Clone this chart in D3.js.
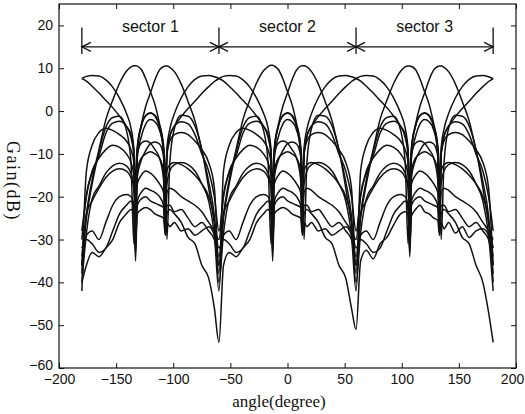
<!DOCTYPE html>
<html>
<head>
<meta charset="utf-8">
<script src="https://cdn.jsdelivr.net/npm/d3@7"></script>
<style>
  body { margin: 0; background: #fff; }
  .tick text { font-family: "Liberation Sans", Arial, sans-serif; font-size: 14px; fill: #111; }
  .tick line { stroke: #111; }
  .beam { fill: none; stroke: #111; stroke-width: 1.5; stroke-linejoin: round; }
</style>
</head>
<body>
<div class="chart"></div>
<script>
// Angle knots (degree) shared by every beam curve
const angleGrid = [
  -180, -176, -171, -165, -159, -153, -147, -141, -137, -134.5, -133, -131.5, -128, -124, -120, -116, -112, -108.5, -107, -105.5, -103, -99, -93, -87, -81, -75, -69, -64,
  -60, -56, -51, -45, -39, -33, -27, -21, -17, -14.5, -13, -11.5, -8, -4, 0, 4, 8, 11.5, 13, 14.5, 17, 21, 27, 33, 39, 45, 51, 56,
  60, 64, 69, 75, 81, 87, 93, 99, 103, 105.5, 107, 108.5, 112, 116, 120, 124, 128, 131.5, 133, 134.5, 137, 141, 147, 153, 159, 165, 171, 176,
  180
]

// Gain (dB) of each beam at the knots above, one line per sector
const beamIL1 = [
  -34, -24, -16, -9, -2, 2.5, 6.5, 9.3, 10.3, 10.6, 10.6, 10.5, 9.7, 7.5, 4.5, 1.5, -3, -8, -14, -30, -12, -4, -1, -1.2, -3.5, -9, -18, -26,
  -32, -30, -31, -33, -32, -28, -24, -22, -21, -23, -35, -22, -20.5, -20, -21, -21.5, -22, -22.5, -28, -24, -23, -24, -26, -29.5, -31, -36, -39, -46,
  -51, -35, -32.5, -34.5, -31, -29.5, -26.5, -24, -23.5, -24, -31, -24.5, -23, -22, -23.5, -24, -25, -25.5, -29, -26, -27.5, -26, -28.5, -27, -29.5, -28, -27.5, -29,
  -34
]
const beamIL2 = [
  -40, -36, -33, -34, -32, -30, -26, -24, -23, -24, -30, -24, -23, -22.5, -23, -24, -24.5, -25, -29, -26, -27, -26, -28, -27.5, -29, -28, -27, -29,
  -34, -24, -16, -9, -2, 2.6, 6.6, 9.4, 10.4, 10.7, 10.7, 10.5, 9.7, 7.5, 4.5, 1.5, -3, -8, -14, -30, -12, -4, -1, -1.2, -3.5, -9, -18, -26,
  -32, -30, -31, -33, -32, -28, -24, -22, -21, -23, -34, -22, -20.5, -20, -21, -21.5, -22, -22.5, -28, -24, -23, -24, -26, -29.5, -31, -36, -40, -47,
  -54
]
const beamIL3 = [
  -32, -30, -31, -33, -32, -28, -24, -22, -21, -23, -35, -22, -20.5, -20, -21, -21.5, -22, -22.5, -28, -24, -23, -24, -26, -29.5, -31, -36, -39, -46,
  -54, -36, -33, -34, -32, -30, -26, -24, -23, -24, -30, -24, -23, -22.5, -23, -24, -24.5, -25, -29, -26, -27, -26, -28, -27.5, -29, -28, -27, -29,
  -34, -24, -16, -9, -2, 2.5, 6.5, 9.3, 10.3, 10.5, 10.5, 10.4, 9.7, 7.5, 4.5, 1.5, -3, -8, -14, -30, -12, -4, -1, -1.2, -3.5, -9, -18, -26,
  -32
]
const beamIR1 = [
  -36, -25, -17, -9.5, -3.8, -1.5, -1.2, -4.5, -12, -31, -15, -8.5, -3.2, 1.2, 4.2, 7.3, 9.6, 10.4, 10.5, 10.5, 10.2, 9.2, 6.3, 2.2, -2.3, -9.2, -16.5, -24.5,
  -38, -14, -8, -5, -4, -4.5, -5.5, -7, -9, -12, -20, -11, -6, -3, -2, -2.5, -4.5, -9, -22, -10, -7, -5.5, -5, -5.5, -7, -9, -12, -18,
  -36, -29, -28, -30, -26, -22, -20, -19.5, -20, -22, -33, -21, -19, -18, -18.5, -19, -20, -22, -28, -22, -22, -23.5, -23, -25, -27, -26, -28, -30,
  -36
]
const beamIR2 = [
  -36, -29, -28, -30, -26, -22, -20, -19.5, -20, -22, -33, -21, -19, -18, -18.5, -19, -20, -22, -28, -22, -22, -23.5, -23, -25, -27, -26, -28, -30,
  -36, -25, -17, -9.5, -3.8, -1.5, -1.2, -4.5, -12, -31, -15, -8.5, -3.2, 1.2, 4.2, 7.3, 9.6, 10.5, 10.6, 10.6, 10.3, 9.2, 6.3, 2.2, -2.3, -9.2, -16.5, -24.5,
  -38, -14, -8, -5, -4, -4.5, -5.5, -7, -9, -12, -20, -11, -6, -3, -2, -2.5, -4.5, -9, -22, -10, -7, -5.5, -5, -5.5, -7, -9, -12, -18,
  -36
]
const beamIR3 = [
  -38, -14, -8, -5, -4, -4.5, -5.5, -7, -9, -12, -20, -11, -6, -3, -2, -2.5, -4.5, -9, -22, -10, -7, -5.5, -5, -5.5, -7, -9, -12, -18,
  -36, -29, -28, -30, -26, -22, -20, -19.5, -20, -22, -33, -21, -19, -18, -18.5, -19, -20, -22, -28, -22, -22, -23.5, -23, -25, -27, -26, -28, -30,
  -36, -25, -17, -9.5, -3.8, -1.5, -1.2, -4.5, -12, -31, -15, -8.5, -3.2, 1.2, 4.2, 7.3, 9.6, 10.4, 10.5, 10.5, 10.2, 9.2, 6.3, 2.2, -2.3, -9.2, -16.5, -24.5,
  -38
]
const beamOL1 = [
  7.6, 8.1, 8.3, 8.2, 7.3, 5.6, 3, -0.5, -4, -9, -24, -9, -3.5, -1, -0.4, -1.2, -3.8, -10, -22, -10, -6, -3.5, -2.5, -3, -5.5, -10, -14, -20,
  -28, -20, -14, -11, -9, -8, -8.5, -10, -12, -15, -24, -14, -11, -10, -9.5, -10, -11, -14, -20, -14, -12.5, -12, -12.5, -13.5, -15, -17, -20, -26,
  -40, -28.5, -20.5, -17.5, -14.5, -12.8, -12.2, -12.8, -14.5, -17.5, -24, -15.5, -11.5, -9.2, -7.6, -7.2, -7.7, -10.5, -25, -9.5, -5.8, -3.6, -1.3, 0.6, 2.3, 4.1, 5.7, 6.9,
  7.6
]
const beamOL2 = [
  -40, -28.5, -20.5, -17.5, -14.5, -12.8, -12.2, -12.8, -14.5, -17.5, -24, -15.5, -11.5, -9.2, -7.6, -7.2, -7.7, -10.5, -25, -9.5, -5.8, -3.6, -1.3, 0.6, 2.3, 4.1, 5.7, 6.9,
  7.6, 8.1, 8.3, 8.2, 7.3, 5.6, 3, -0.5, -4, -9, -24, -9, -3.5, -1, -0.4, -1.2, -3.8, -10, -22, -10, -6, -3.5, -2.5, -3, -5.5, -10, -14, -20,
  -28, -20, -14, -11, -9, -8, -8.5, -10, -12, -15, -24, -14, -11, -10, -9.5, -10, -11, -14, -20, -14, -12.5, -12, -12.5, -13.5, -15, -17, -20, -26,
  -40
]
const beamOL3 = [
  -28, -20, -14, -11, -9, -8, -8.5, -10, -12, -15, -24, -14, -11, -10, -9.5, -10, -11, -14, -20, -14, -12.5, -12, -12.5, -13.5, -15, -17, -20, -26,
  -40, -28.5, -20.5, -17.5, -14.5, -12.8, -12.2, -12.8, -14.5, -17.5, -24, -15.5, -11.5, -9.2, -7.6, -7.2, -7.7, -10.5, -25, -9.5, -5.8, -3.6, -1.3, 0.6, 2.3, 4.1, 5.7, 6.9,
  7.6, 8.1, 8.3, 8.2, 7.3, 5.6, 3, -0.5, -4, -9, -24, -9, -3.5, -1, -0.4, -1.2, -3.8, -10, -22, -10, -6, -3.5, -2.5, -3, -5.5, -10, -14, -20,
  -28
]
const beamOR1 = [
  -30, -19.5, -14.5, -10.5, -5.2, -2.8, -2.4, -3.6, -6.2, -10.5, -23, -9.5, -3.6, -1.1, -0.5, -1, -3.4, -8.8, -25, -8.6, -4.2, -0.6, 3.1, 5.7, 7.4, 8.2, 8.3, 8.0,
  7.6, 7.0, 5.8, 4.2, 2.5, 0.8, -1.2, -3.5, -5.5, -9, -26, -10, -7.5, -7, -7.5, -9, -11, -16, -25, -17, -14, -12.5, -12, -12.5, -14, -17, -21, -29,
  -42, -24, -21, -18, -15.5, -14, -13.5, -14, -15.5, -18, -28, -17, -15, -14, -14.5, -15.5, -17, -19, -26, -19, -18, -18.5, -20, -21, -22, -23.5, -26, -28,
  -30
]
const beamOR2 = [
  -42, -24, -21, -18, -15.5, -14, -13.5, -14, -15.5, -18, -28, -17, -15, -14, -14.5, -15.5, -17, -19, -26, -19, -18, -18.5, -20, -21, -22, -23.5, -26, -28,
  -30, -19.5, -14.5, -10.5, -5.2, -2.8, -2.4, -3.6, -6.2, -10.5, -23, -9.5, -3.6, -1.1, -0.5, -1, -3.4, -8.8, -25, -8.6, -4.2, -0.6, 3.1, 5.7, 7.4, 8.2, 8.3, 8.0,
  7.6, 7.0, 5.8, 4.2, 2.5, 0.8, -1.2, -3.5, -5.5, -9, -26, -10, -7.5, -7, -7.5, -9, -11, -16, -25, -17, -14, -12.5, -12, -12.5, -14, -17, -21, -29,
  -42
]
const beamOR3 = [
  7.6, 7.0, 5.8, 4.2, 2.5, 0.8, -1.2, -3.5, -5.5, -9, -26, -10, -7.5, -7, -7.5, -9, -11, -16, -25, -17, -14, -12.5, -12, -12.5, -14, -17, -21, -29,
  -42, -24, -21, -18, -15.5, -14, -13.5, -14, -15.5, -18, -28, -17, -15, -14, -14.5, -15.5, -17, -19, -26, -19, -18, -18.5, -20, -21, -22, -23.5, -26, -28,
  -30, -19.5, -14.5, -10.5, -5.2, -2.8, -2.4, -3.6, -6.2, -10.5, -23, -9.5, -3.6, -1.1, -0.5, -1, -3.4, -8.8, -25, -8.6, -4.2, -0.6, 3.1, 5.7, 7.4, 8.2, 8.3, 8.0,
  7.6
]

const beams = [beamIL1, beamIL2, beamIL3, beamIR1, beamIR2, beamIR3, beamOL1, beamOL2, beamOL3, beamOR1, beamOR2, beamOR3]

// Axis ticks
const xTicks = [-200, -150, -100, -50, 0, 50, 100, 150, 200]
const yTicks = [-60, -50, -40, -30, -20, -10, 0, 10, 20]

// Sector annotation
const sectorBounds = [-180, -60, 60, 180]
const sectorCenters = [-120, 0, 120]
const sectorLabels = ['sector 1', 'sector 2', 'sector 3']

function draw() {
    // Dimensions
    let dimensions = {
        width: 525,
        height: 414,
        margins: { top: 4, right: 9, bottom: 46, left: 59 }
    };
    dimensions.ctrWidth = dimensions.width - dimensions.margins.left - dimensions.margins.right
    dimensions.ctrHeight = dimensions.height - dimensions.margins.top - dimensions.margins.bottom

    const svg = d3.select('.chart')
        .append('svg')
        .attr('width', dimensions.width)
        .attr('height', dimensions.height)

    const ctr = svg.append('g')
        .attr('transform', `translate(${dimensions.margins.left}, ${dimensions.margins.top})`)

    // Scales
    const xScale = d3.scaleLinear()
        .domain([-200, 200])
        .range([0, dimensions.ctrWidth])

    const yScale = d3.scaleLinear()
        .domain([-60, 25])
        .range([dimensions.ctrHeight, 0])

    // Axes, ticks pointing inwards like matlab
    const stripDomain = g => g.select('.domain').remove()

    ctr.append('g')
        .attr('transform', `translate(0, ${dimensions.ctrHeight})`)
        .call(d3.axisBottom(xScale).tickValues(xTicks).tickSize(-5).tickPadding(6))
        .call(stripDomain)
        // keep the last label inside the page
        .call(g => g.selectAll('.tick text').filter(d => d === 200)
            .attr('text-anchor', 'end').attr('dx', '0.55em'))

    ctr.append('g')
        .call(d3.axisTop(xScale).tickValues(xTicks).tickSize(-5).tickFormat(''))
        .call(stripDomain)

    ctr.append('g')
        .call(d3.axisLeft(yScale).tickValues(yTicks).tickSize(-5).tickPadding(6))
        .call(stripDomain)
        // lift the bottom label a little so it clears the x labels
        .call(g => g.selectAll('.tick text').filter(d => d === -60).attr('dy', '0.1em'))

    ctr.append('g')
        .attr('transform', `translate(${dimensions.ctrWidth}, 0)`)
        .call(d3.axisRight(yScale).tickValues(yTicks).tickSize(-5).tickFormat(''))
        .call(stripDomain)

    // Beam patterns
    const beamLine = d3.line()
        .x((d, i) => xScale(angleGrid[i]))
        .y(d => yScale(d))
        .curve(d3.curveMonotoneX)

    ctr.append('g')
        .selectAll('path')
        .data(beams)
        .join('path')
        .classed('beam', true)
        .attr('d', beamLine)

    // Frame
    ctr.append('rect')
        .attr('width', dimensions.ctrWidth)
        .attr('height', dimensions.ctrHeight)
        .attr('fill', 'none')
        .attr('stroke', '#111')
        .attr('stroke-width', 1.2)

    // Sector arrows
    const arrowY = yScale(15)
    const barTop = yScale(19.5)
    const barBottom = yScale(13.3)
    const headLen = 9, headHalf = 4.5

    const sectorG = ctr.append('g')
        .attr('stroke', '#111')
        .attr('stroke-width', 1.3)
        .attr('fill', 'none')

    sectorG.append('line')
        .attr('x1', xScale(sectorBounds[0]))
        .attr('x2', xScale(sectorBounds[sectorBounds.length - 1]))
        .attr('y1', arrowY)
        .attr('y2', arrowY)

    sectorBounds.forEach((b, i) => {
        const x = xScale(b)
        sectorG.append('line')
            .attr('x1', x).attr('x2', x)
            .attr('y1', barTop).attr('y2', barBottom)
        // head pointing left (arrow arriving from the right side)
        if (i < sectorBounds.length - 1) {
            sectorG.append('path')
                .attr('d', `M${x + headLen},${arrowY - headHalf}L${x},${arrowY}L${x + headLen},${arrowY + headHalf}`)
        }
        // head pointing right (arrow arriving from the left side)
        if (i > 0) {
            sectorG.append('path')
                .attr('d', `M${x - headLen},${arrowY - headHalf}L${x},${arrowY}L${x - headLen},${arrowY + headHalf}`)
        }
    })

    ctr.append('g')
        .selectAll('text')
        .data(sectorLabels)
        .join('text')
        .attr('x', (d, i) => xScale(sectorCenters[i]))
        .attr('y', yScale(18.4))
        .attr('text-anchor', 'middle')
        .style('font-family', '"Liberation Sans", Arial, sans-serif')
        .style('font-size', '16px')
        .attr('fill', '#111')
        .text(d => d)

    // Axis labels
    svg.append('text')
        .attr('x', 279)
        .attr('y', 407)
        .attr('text-anchor', 'middle')
        .style('font-family', '"Liberation Serif", "Times New Roman", serif')
        .style('font-size', '17px')
        .attr('fill', '#111')
        .text('angle(degree)')

    svg.append('text')
        .attr('transform', 'translate(7, 181) rotate(90)')
        .attr('text-anchor', 'middle')
        .style('font-family', '"Liberation Serif", "Times New Roman", serif')
        .style('font-size', '18px')
        .style('letter-spacing', '1.5px')
        .attr('fill', '#111')
        .text('Gain(dB)')
}

draw()
</script>
</body>
</html>
